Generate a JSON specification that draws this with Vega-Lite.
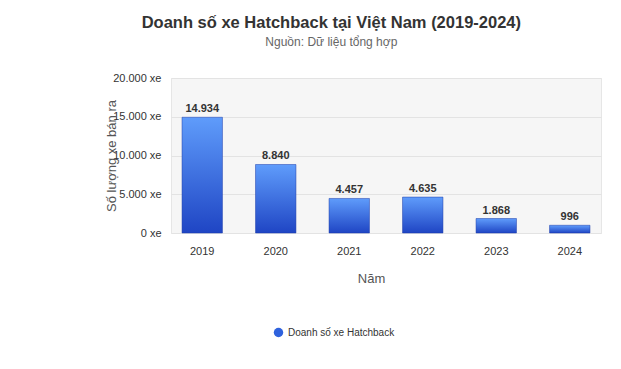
{
  "$schema": "https://vega.github.io/schema/vega-lite/v6.json",
  "width": 430,
  "height": 155,
  "padding": {"left": 105, "top": 14, "right": 22, "bottom": 10},
  "background": "#ffffff",
  "title": {
    "text": "Doanh số xe Hatchback tại Việt Nam (2019-2024)",
    "subtitle": "Nguồn: Dữ liệu tổng hợp",
    "anchor": "middle",
    "frame": "bounds",
    "dx": -22,
    "font": "Liberation Sans",
    "fontSize": 16.5,
    "fontWeight": "bold",
    "color": "#333333",
    "subtitleFont": "Liberation Sans",
    "subtitleFontSize": 12,
    "subtitleColor": "#666666",
    "subtitlePadding": 6,
    "offset": 24
  },
  "config": {
    "locale": {"number": {"decimal": ",", "thousands": ".", "grouping": [3], "currency": ["", " đ"]}},
    "font": "Liberation Sans",
    "view": {"fill": "#f6f6f6", "stroke": "#e6e6e6"}
  },
  "data": {
    "values": [
      {"year": "2019", "sales": 14934, "series": "Doanh số xe Hatchback"},
      {"year": "2020", "sales": 8840, "series": "Doanh số xe Hatchback"},
      {"year": "2021", "sales": 4457, "series": "Doanh số xe Hatchback"},
      {"year": "2022", "sales": 4635, "series": "Doanh số xe Hatchback"},
      {"year": "2023", "sales": 1868, "series": "Doanh số xe Hatchback"},
      {"year": "2024", "sales": 996, "series": "Doanh số xe Hatchback"}
    ]
  },
  "encoding": {
    "x": {
      "field": "year",
      "type": "nominal",
      "scale": {"paddingInner": 0.45, "paddingOuter": 0.15},
      "axis": {
        "title": "Năm",
        "titleFontSize": 13,
        "titleFontWeight": "normal",
        "titleColor": "#555555",
        "titleX": 200,
        "labelAngle": 0,
        "labelFontSize": 11,
        "labelColor": "#333333",
        "labelPadding": 12,
        "titlePadding": 16,
        "domain": false,
        "ticks": false
      }
    },
    "y": {
      "field": "sales",
      "type": "quantitative",
      "scale": {"domain": [0, 20000]},
      "axis": {
        "title": "Số lượng xe bán ra",
        "titleFontSize": 13,
        "titleFontWeight": "normal",
        "titleColor": "#555555",
        "titlePadding": -6,
        "values": [0, 5000, 10000, 15000, 20000],
        "format": ",.0f",
        "labelExpr": "datum.label + ' xe'",
        "labelFontSize": 11,
        "labelColor": "#333333",
        "labelPadding": 10,
        "gridColor": "#e3e3e3",
        "domain": false,
        "ticks": false
      }
    }
  },
  "layer": [
    {
      "mark": {
        "type": "bar",
        "fill": {
          "gradient": "linear",
          "x1": 0, "y1": 0, "x2": 0, "y2": 1,
          "stops": [
            {"offset": 0, "color": "#5f9cfb"},
            {"offset": 1, "color": "#1f45c4"}
          ]
        },
        "stroke": "#1a3aa8",
        "strokeWidth": 0.5
      }
    },
    {
      "mark": {"type": "text", "dy": -8, "fontSize": 11, "fontWeight": "bold", "color": "#333333"},
      "encoding": {
        "text": {"field": "sales", "type": "quantitative", "format": ",.0f"}
      }
    },
    {
      "mark": {"type": "point", "filled": true, "opacity": 0},
      "encoding": {
        "color": {
          "field": "series",
          "type": "nominal",
          "scale": {"range": ["#2f62dd"]},
          "legend": {
            "title": null,
            "orient": "none",
            "legendX": 102,
            "legendY": 249,
            "symbolType": "circle",
            "symbolSize": 90,
            "symbolOpacity": 1,
            "labelFontSize": 10,
            "labelColor": "#333333"
          }
        }
      }
    }
  ]
}
